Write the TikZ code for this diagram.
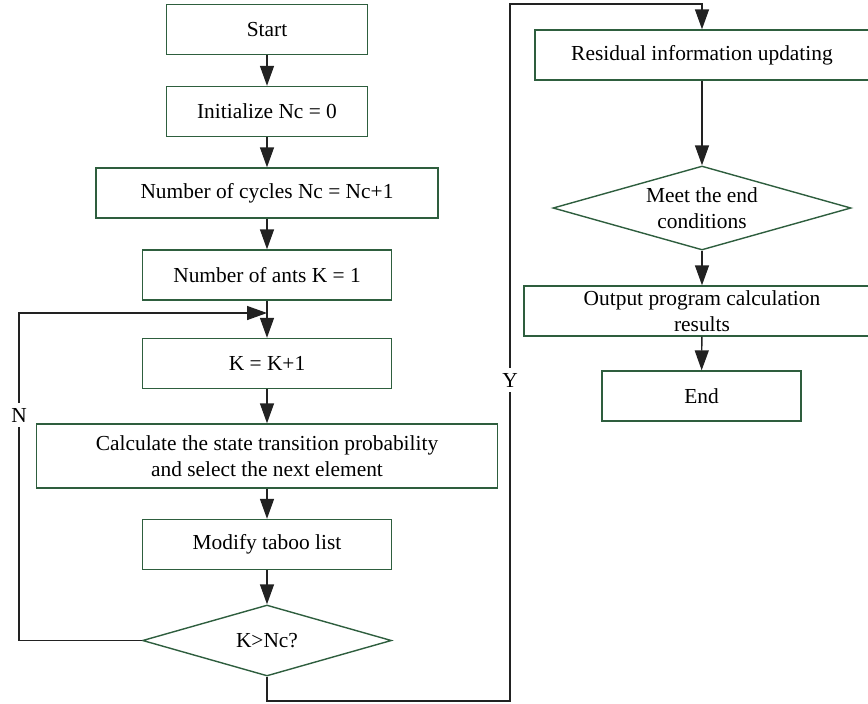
\documentclass[tikz,border=0pt]{standalone}
\usepackage{fontspec}
\setmainfont{Liberation Serif}
\usetikzlibrary{arrows.meta,positioning,shapes.geometric}
\definecolor{boxgreen}{RGB}{46,94,62}
\definecolor{linegray}{RGB}{34,34,34}

\begin{document}
\begin{tikzpicture}[x=0.5pt,y=-0.5pt,
    font=\fontsize{10.7}{13}\selectfont,
    box/.style={draw=boxgreen,line width=0.7pt,minimum height=25pt,inner sep=1pt,align=center},
    test/.style={diamond,draw=boxgreen,line width=0.7pt,inner sep=0pt,aspect=3.5,align=center},
    flow/.style={draw=linegray,line width=0.7pt,-{Triangle[length=10pt,width=7pt]}},
    lbl/.style={fill=white,inner sep=2.5pt}]
  \useasboundingbox (0,0) rectangle (868,703);
  % left column
  \node[box,minimum width=100.5pt](start) at (267,29.5){Start};
  \node[box,minimum width=100.5pt](init) at (267,111.5){Initialize Nc = 0};
  \node[box,minimum width=171pt](cyc) at (267,193){Number of cycles Nc = Nc+1};
  \node[box,minimum width=124.5pt](ants) at (267,275){Number of ants K = 1};
  \node[box,minimum width=124.5pt](kinc) at (267,363.5){K = K+1};
  \node[box,minimum width=230.5pt,minimum height=32pt](calc) at (267,456){Calculate the state transition probability\\and select the next element};
  \node[box,minimum width=124.5pt](taboo) at (267,544.5){Modify taboo list};
  \node[test,minimum width=124.5pt,minimum height=35.5pt](dk) at (267,640.5){K>Nc?};
  % right column
  \node[box,minimum width=167pt](res) at (702,55){Residual information updating};
  \node[test,minimum width=149pt,minimum height=42pt](meet) at (702,208){Meet the end\\conditions};
  \node[box,minimum width=178pt](out) at (702,311){Output program calculation\\results};
  \node[box,minimum width=99.5pt](fin) at (701.5,396){End};
  % arrows
  \draw[flow](start)--(init);
  \draw[flow](init)--(cyc);
  \draw[flow](cyc)--(ants);
  \draw[flow](ants)--(kinc);
  \draw[flow](kinc)--(calc);
  \draw[flow](calc)--(taboo);
  \draw[flow](taboo)--(dk);
  \draw[flow](res)--(meet);
  \draw[flow](meet)--(out);
  \draw[flow](out)--(fin);
  % N branch back to the loop
  \coordinate (loopin) at (267,313);
  \coordinate (nleft) at (19,640.5);
  \draw[flow](dk.west)--(nleft)|-node[lbl,pos=0.344]{N}(loopin);
  % Y branch over to the right column
  \coordinate (ycorner) at (510,701);
  \coordinate (ytop) at (510,4);
  \draw[flow](dk.south)|-(ycorner)--node[lbl,pos=0.46]{Y}(ytop)-|(res.north);
\end{tikzpicture}
\end{document}
